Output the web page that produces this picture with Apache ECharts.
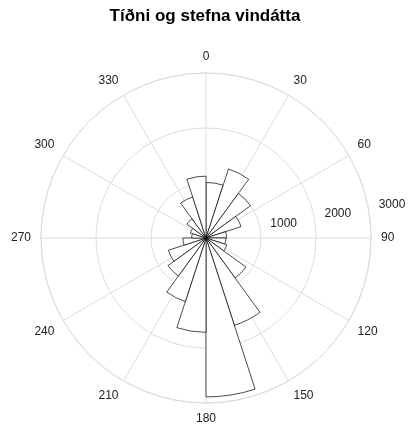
<!DOCTYPE html>
<html>
<head>
<meta charset="utf-8">
<script src="https://cdn.jsdelivr.net/npm/echarts@6/dist/echarts.min.js"></script>
<style>
  html, body { margin: 0; background: #fff; }
  #chart { width: 410px; height: 436px; }
</style>
</head>
<body>
<div id="chart"></div>
<script>
// vindáttir í 18° bilum, byrjað í 0 (norður), réttsælis
var sectorStart = [0, 18, 36, 54, 72, 90, 108, 126, 144, 162,
                   180, 198, 216, 234, 252, 270, 288, 306, 324, 342];
var counts = [1010, 1320, 1000, 670, 375, 360, 400, 900, 1670, 2890,
              1715, 1215, 855, 720, 420, 260, 300, 430, 785, 1125];
var radiusTicks = [1000, 2000, 3000];
var angleStep = 30;

var chart = echarts.init(document.getElementById('chart'));
var center = [206, 238];
var radius = 165;
var font = 'Liberation Sans, Arial, sans-serif';

chart.setOption({
  animation: false,
  title: {
    text: 'Tíðni og stefna vindátta',
    left: 'center',
    top: 3,
    textStyle: { fontSize: 17, fontWeight: 'bold', color: '#000', fontFamily: font }
  },
  polar: [
    { center: center, radius: radius },   // gögn
    { center: center, radius: radius },   // hnitanet + áttir
    { center: center, radius: radius }    // merki á radíus
  ],
  angleAxis: [
    {
      polarIndex: 0, type: 'category', data: sectorStart.map(String),
      startAngle: 90, clockwise: true, boundaryGap: true,
      axisLine: { show: false }, axisTick: { show: false },
      axisLabel: { show: false }, splitLine: { show: false }
    },
    {
      polarIndex: 1, type: 'value', min: 0, max: 360, interval: angleStep,
      startAngle: 90, clockwise: true,
      axisLine: { show: true, lineStyle: { color: '#dcdcdc', width: 1 } },
      axisTick: { show: false },
      axisLabel: {
        margin: 10, color: '#222', fontSize: 12, fontFamily: font,
        formatter: function (v) { return v === 360 ? '' : String(v); }
      },
      splitLine: { show: true, lineStyle: { color: '#dcdcdc', width: 1 } }
    },
    {
      polarIndex: 2, type: 'value', min: 0, max: 360, startAngle: 10,
      axisLine: { show: false }, axisTick: { show: false },
      axisLabel: { show: false }, splitLine: { show: false }
    }
  ],
  radiusAxis: [
    {
      polarIndex: 0, min: 0, max: 3000,
      axisLine: { show: false }, axisTick: { show: false },
      axisLabel: { show: false }, splitLine: { show: false }
    },
    {
      polarIndex: 1, min: 0, max: 3000, interval: 1000,
      axisLine: { show: false }, axisTick: { show: false },
      axisLabel: { show: false },
      splitLine: { show: true, lineStyle: { color: '#dcdcdc', width: 1 } }
    },
    {
      polarIndex: 2, min: 0, max: 3000, interval: 1000,
      axisLine: { show: false }, axisTick: { show: false },
      splitLine: { show: false },
      axisLabel: {
        margin: 5, align: 'left', padding: [0, 0, 0, 11],
        color: '#222', fontSize: 12, fontFamily: font,
        formatter: function (v) { return radiusTicks.indexOf(v) >= 0 ? String(v) : ''; }
      }
    }
  ],
  series: [{
    type: 'bar',
    coordinateSystem: 'polar',
    polarIndex: 0,
    data: counts,
    barCategoryGap: '0%',
    itemStyle: { color: '#fff', borderColor: '#000', borderWidth: 0.7 },
    z: 5
  }]
});
</script>
</body>
</html>
